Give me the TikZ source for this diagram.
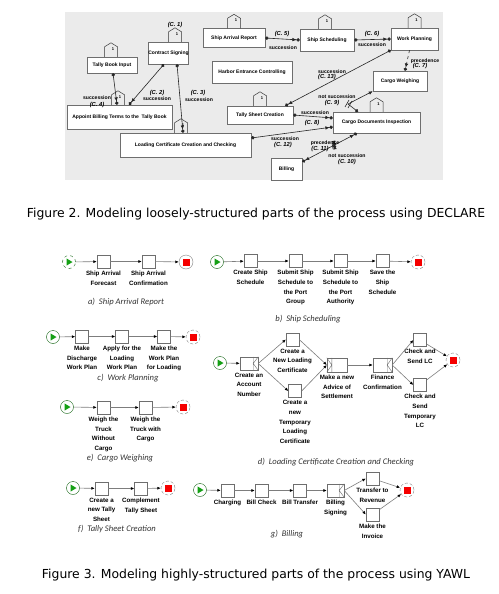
\documentclass[tikz,border=0pt]{standalone}
\usepackage{fontspec}
\setmainfont{DejaVu Sans}
\newfontfamily\declfont{Liberation Sans}
\newfontfamily\capfont{Carlito}
\usetikzlibrary{arrows.meta,decorations.markings}

\definecolor{declbg}{RGB}{235,235,235}
\definecolor{boxgray}{RGB}{110,110,110}
\definecolor{flowgray}{RGB}{125,125,125}
\definecolor{startgreen}{RGB}{20,160,20}
\definecolor{endred}{RGB}{245,0,0}

\tikzset{
  act/.style={draw=boxgray, fill=white, inner sep=0pt, font=\declfont\fontsize{5}{5.5}\selectfont\bfseries},
  clab/.style={inner sep=0pt, font=\declfont\fontsize{5.8}{6}\selectfont\bfseries\itshape},
  rlab/.style={inner sep=0pt, font=\declfont\fontsize{5.1}{5.5}\selectfont\bfseries},
  house/.style={draw=black!80, line width=0.5pt},
  cardnum/.style={inner sep=0pt, font=\declfont\fontsize{4}{4}\selectfont\bfseries},
  con/.style={draw=black!85, line width=0.6pt},
  succ/.style={con, {Circle[length=3.4pt]}-{Latex[length=4pt,width=3.6pt] Circle[length=3.4pt]}},
  prec/.style={con, -{Latex[length=4pt,width=3.6pt] Circle[length=3.4pt]}},
  notmark/.style={postaction={decorate, decoration={markings,
    mark=at position #1 with {\draw[con] (-2pt,-3pt) -- (0pt,3pt) (0pt,-3pt) -- (2pt,3pt);}}}},
  task/.style={draw=boxgray, fill=white, minimum width=13pt, minimum height=13pt, inner sep=0pt},
  tlab/.style={font=\declfont\fontsize{6.2}{9.7}\selectfont\bfseries, align=center, inner sep=2.5pt},
  flow/.style={draw=flowgray, line width=0.6pt, -{Latex[length=3.5pt,width=3pt,color=black]}},
  deco/.style={draw=boxgray, line width=0.4pt},
  startc/.style={circle, draw=startgreen!60!black, fill=white, minimum size=13pt, inner sep=0pt,
    path picture={\fill[startgreen] ([xshift=-2.5pt,yshift=3.6pt]path picture bounding box.center)
      -- ++(6pt,-3.6pt) -- ++(-6pt,-3.6pt) -- cycle;}},
  endc/.style={circle, draw=gray, densely dashed, fill=white, minimum size=14pt, inner sep=0pt,
    path picture={\fill[endred] ([xshift=-3.5pt,yshift=-3.5pt]path picture bounding box.center) rectangle ++(7pt,7pt);}},
  subcap/.style={inner sep=0pt, text=black!80, font=\capfont\fontsize{8.6}{10}\selectfont\itshape},
  figcap/.style={inner sep=0pt, font=\fontsize{12.4}{14}\selectfont}
}

% existence box "1" on top of an activity
\newcommand{\cardhouse}[2]{%
  \draw[house] ([xshift=#2pt-6.5pt]#1.north) -- ++(0pt,10pt) -- ++(6.5pt,4pt) -- ++(6.5pt,-4pt) -- ++(0pt,-10pt);
  \node[cardnum] (#1-card) at ([xshift=#2pt+2pt,yshift=8pt]#1.north) {1};
}
% split and join decorators
\newcommand{\splitdeco}[1]{%
  \draw[deco] ([xshift=-5pt]#1.north east) -- ([xshift=-5pt]#1.south east)
    (#1.north east) -- ([xshift=-5pt]#1.east) -- (#1.south east);
}
\newcommand{\joindeco}[1]{%
  \draw[deco] ([xshift=5pt]#1.north west) -- ([xshift=5pt]#1.south west)
    (#1.north west) -- ([xshift=5pt]#1.west) -- (#1.south west);
}

\begin{document}
\begin{tikzpicture}[x=1pt, y=-1pt]
\useasboundingbox (0,0) rectangle (498,594);

% ---------- DECLARE model ----------
\fill[declbg] (65,12) rectangle (443,180);
\foreach \nm/\x/\y/\w/\h/\txt in {
  tbi/112/65/50/16/Tally Book Input,
  cs/168.5/53/39/22/Contract Signing,
  sar/234/38/62/19/Ship Arrival Report,
  ss/327/40/54/22/Ship Scheduling,
  wp/414.5/39/47/22/Work Planning,
  hec/252/72/80/22/Harbor Entrance Controlling,
  cw/400/81/54/20/Cargo Weighing,
  tsc/260/115/66/18/Tally Sheet Creation,
  abt/119.5/117/105/24/{Appoint Billing Terms to the\ \ Tally Book},
  lcc/185.5/145/131/24/Loading Certificate Creation and Checking,
  cdi/376.5/122.5/87/21/Cargo Documents Inspection,
  bil/286.5/169/31/22/Billing%
} {
  \node[act, minimum width=\w pt, minimum height=\h pt] (\nm) at (\x,\y) {\txt};
}
\cardhouse{tbi}{-1}
\cardhouse{cs}{6.5}
\cardhouse{sar}{0}
\cardhouse{ss}{-2}
\cardhouse{wp}{0}
\cardhouse{tsc}{0}
\cardhouse{abt}{-1.5}
\cardhouse{lcc}{-4.5}
\cardhouse{cdi}{0}

% constraints
\draw[succ] ([xshift=-4.5pt]cs.south) -- ([xshift=9.5pt]abt.north);
\draw[succ] ([xshift=8.5pt]cs.south) -- ([xshift=-2.5pt]lcc.north);
\draw[succ] ([xshift=1pt]tbi.south) -- ([xshift=-2.5pt]abt.north);
\draw[succ] (sar.east) -- (ss.west);
\draw[succ] (ss.east) -- (wp.west);
\draw[prec, dashed] ([xshift=-5pt]wp.south) -- ([xshift=5pt]cw.north);
\draw[succ] (wp.south west) -- ([xshift=-8pt]tsc.north east);
\coordinate (c9bend) at (348,104);
\draw[con, {Circle[length=3.4pt]}-{Latex[length=4pt,width=3.6pt]}]
  ([xshift=-18.5pt]cdi.north) -- (c9bend) -- (cw.south west);
\draw[con] (c9bend) ++(-3,3) -- ++(4,-7) (c9bend) ++(0,4) -- ++(4,-7);
\draw[succ] (tsc.east) -- ([yshift=4.5pt]cdi.west);
\draw[succ] ([yshift=7pt]lcc.east) -- ([yshift=-4.5pt]cdi.west);
\draw[con, notmark=0.57, {Circle[length=3.4pt] Latex[length=4pt,width=3.6pt]}-{Latex[length=4pt,width=3.6pt] Circle[length=3.4pt]}]
  ([yshift=-4pt]bil.north east) -- ([xshift=-19.5pt]cdi.south);

% constraint labels
\foreach \nm/\x/\y/\txt in {
  s2/157/99/succession, s3/199/100/succession, s4/97/98/succession,
  s5/283/48/succession, s6/372/45/succession, p7/425/61/precedence,
  s13/332/72/succession, n9/337/97/not succession, s8/315/113/succession,
  s12/285/139/succession, p11/325/143/precedence, n10/347/156/not succession%
} {
  \node[rlab] (lab\nm) at (\x,\y) {\txt};
}
\foreach \nm/\x/\y in {
  1/175/25, 2/157/93, 3/198/93, 4/97/105, 5/282/34, 6/372/34, 7/420/66,
  13/327/77, 9/332/103, 8/312/123, 12/283/145, 11/320/149, 10/347/162%
} {
  \node[clab] (labc\nm) at (\x,\y) {(C.\ \nm)};
}
\node[figcap] (fig2) at (256,214) {Figure 2. Modeling loosely-structured parts of the process using DECLARE};

% ---------- YAWL nets ----------
% a) Ship Arrival Report
\node[startc, dashed] (a0) at (69,262) {};
\node[task, label={[tlab]below:{Ship Arrival\\Forecast}}] (a1) at (103.5,261.5) {};
\node[task, label={[tlab]below:{Ship Arrival\\Confirmation}}] (a2) at (148.5,261.5) {};
\node[endc, solid] (a3) at (186,262) {};
\foreach \u/\v in {a0/a1, a1/a2, a2/a3} \draw[flow] (\u) -- (\v);
\node[subcap] (capa) at (126,302) {a)\ \ Ship Arrival Report};

% b) Ship Scheduling
\node[startc] (b0) at (217,262) {};
\node[task, label={[tlab]below:{Create Ship\\Schedule}}] (b1) at (250.5,261) {};
\node[task, label={[tlab]below:{Submit Ship\\Schedule to\\the Port\\Group}}] (b2) at (295.5,261) {};
\node[task, label={[tlab]below:{Submit Ship\\Schedule to\\the Port\\Authority}}] (b3) at (340.5,261) {};
\node[task, label={[tlab]below:{Save the\\Ship\\Schedule}}] (b4) at (382.5,261) {};
\node[endc] (b5) at (418,262) {};
\foreach \u/\v in {b0/b1, b1/b2, b2/b3, b3/b4, b4/b5} \draw[flow] (\u) -- (\v);
\node[subcap] (capb) at (308,319) {b)\ \ Ship Scheduling};

% c) Work Planning
\node[startc] (c0) at (53,337) {};
\node[task, label={[tlab]below:{Make\\Discharge\\Work Plan}}] (c1) at (82,336.5) {};
\node[task, label={[tlab]below:{Apply for the\\Loading\\Work Plan}}] (c2) at (122,336.5) {};
\node[task, label={[tlab]below:{Make the\\Work Plan\\for Loading}}] (c3) at (164,336.5) {};
\node[endc] (c4) at (193,337) {};
\foreach \u/\v in {c0/c1, c1/c2, c2/c3, c3/c4} \draw[flow] (\u) -- (\v);
\node[subcap] (capc) at (128,378) {c)\ \ Work Planning};

% d) Loading Certificate Creation and Checking
\node[startc] (d0) at (220,363) {};
\node[task, minimum width=18pt, label={[tlab]below:{Create an\\Account\\Number}}] (d1) at (249,363.5) {};
\node[task, label={[tlab]below:{Create a\\New Loading\\Certificate}}] (d2) at (292.5,339.5) {};
\node[task, label={[tlab]below:{Create a\\new\\Temporary\\Loading\\Certificate}}] (d3) at (295,391) {};
\node[task, minimum width=20pt, minimum height=14pt, label={[tlab]below:{Make a new\\Advice of\\Settlement}}] (d4) at (337,365) {};
\node[task, minimum width=19pt, minimum height=14pt, label={[tlab]below:{Finance\\Confirmation}}] (d5) at (382.5,365) {};
\node[task, label={[tlab]below:{Check and\\Send LC}}] (d6) at (420,340) {};
\node[task, label={[tlab]below:{Check and\\Send\\Temporary\\LC}}] (d7) at (420,385) {};
\node[endc] (d8) at (453,360) {};
\splitdeco{d1}
\joindeco{d4}
\splitdeco{d5}
\foreach \u/\v in {d0/d1, d1.east/d2.west, d1.east/d3.west, d2.east/d4.west, d3.east/d4.west,
  d4/d5, d5.east/d6.west, d5.east/d7.west, d6/d8, d7/d8} \draw[flow] (\u) -- (\v);
\node[subcap] (capd) at (336,462) {d)\ \ Loading Certificate Creation and Checking};

% e) Cargo Weighing
\node[startc] (e0) at (67,407) {};
\node[task, label={[tlab]below:{Weigh the\\Truck\\Without\\Cargo}}] (e1) at (103.5,407.5) {};
\node[task, label={[tlab]below:{Weigh the\\Truck with\\Cargo}}] (e2) at (145.5,407.5) {};
\node[endc] (e3) at (183,407) {};
\foreach \u/\v in {e0/e1, e1/e2, e2/e3} \draw[flow] (\u) -- (\v);
\node[subcap] (cape) at (120,458) {e)\ \ Cargo Weighing};

% f) Tally Sheet Creation
\node[startc] (f0) at (73,488) {};
\node[task, label={[tlab]below:{Create a\\new Tally\\Sheet}}] (f1) at (101.5,488.5) {};
\node[task, label={[tlab]below:{Complement\\Tally Sheet}}] (f2) at (141,488.5) {};
\node[endc] (f3) at (168,488) {};
\foreach \u/\v in {f0/f1, f1/f2, f2/f3} \draw[flow] (\u) -- (\v);
\node[subcap] (capf) at (117,529) {f)\ \ Tally Sheet Creation};

% g) Billing
\node[startc] (g0) at (200,490) {};
\node[task, label={[tlab]below:{Charging}}] (g1) at (227.5,490.5) {};
\node[task, label={[tlab]below:{Bill Check}}] (g2) at (261.5,490.5) {};
\node[task, label={[tlab]below:{Bill Transfer}}] (g3) at (300,490.5) {};
\node[task, minimum width=17pt, label={[tlab]below:{Billing\\Signing}}] (g4) at (335.5,490.5) {};
\node[task, label={[tlab]below:{Transfer to\\Revenue}}] (g5) at (372.5,478.5) {};
\node[task, label={[tlab]below:{Make the\\Invoice}}] (g6) at (372.5,514.5) {};
\node[endc] (g7) at (407,490) {};
\splitdeco{g4}
\foreach \u/\v in {g0/g1, g1/g2, g2/g3, g3/g4, g4.east/g5.west, g4.east/g6.west, g5/g7, g6/g7} \draw[flow] (\u) -- (\v);
\node[subcap] (capg) at (287,534) {g)\ \ Billing};

\node[figcap] (fig3) at (256,575) {Figure 3. Modeling highly-structured parts of the process using YAWL};
\end{tikzpicture}
\end{document}
